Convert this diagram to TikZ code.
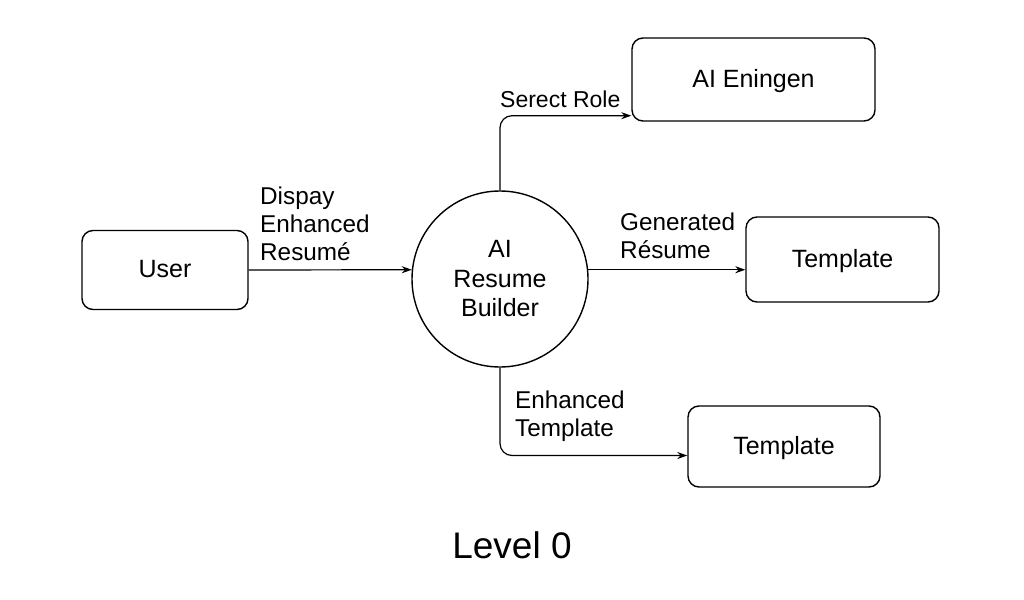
\documentclass[tikz,border=0pt]{standalone}
\usepackage{fontspec}
\setmainfont{Liberation Sans}
\usetikzlibrary{arrows.meta}

\begin{document}
\begin{tikzpicture}[x=1pt,y=-1pt]
		\tikzstyle{every node}+=[inner sep=0pt]
		\tikzstyle{box}=[draw, rounded corners=11pt, line width=1.4pt, font=\fontsize{25}{30}\selectfont, text depth=2pt]
		\tikzstyle{proc}=[draw, circle, line width=1.4pt, minimum size=176pt, align=center, font=\fontsize{25}{29.5}\selectfont]
		\tikzstyle{flow}=[-{Stealth[length=10pt,width=7pt]}, line width=1.2pt, rounded corners=12pt]
		\tikzstyle{lbl}=[align=left, font=\fontsize{24.3}{28}\selectfont]
		\useasboundingbox (0,0) rectangle (1024,599);
		% nodes
		\node [box, minimum width=166pt, minimum height=79pt] (user) at (165,270) {User};
		\node [proc] (arb) at (500,279) {AI\\Resume\\Builder};
		\node [box, minimum width=243pt, minimum height=83pt] (engine) at (753.5,79.5) {AI Eningen};
		\node [box, minimum width=193pt, minimum height=85pt] (tplA) at (842.5,259.5) {Template};
		\node [box, minimum width=192pt, minimum height=81pt] (tplB) at (784,446.5) {Template};
		\node [font=\fontsize{37}{44}\selectfont] (level) at (512,545) {Level 0};
		% flows
		\draw [flow] (user.east) -- (arb.174);
		\node [lbl, anchor=south west] (lblshow) at (260,261) {Dispay\\Enhanced\\Resumé};
		\draw [flow] (arb.north) |- ([yshift=6pt]engine.south west);
		\node [lbl, anchor=base west, font=\fontsize{23}{28}\selectfont] (lblrole) at (500,107) {Serect Role};
		\draw [flow] (arb.6) -- (arb.6 -| tplA.west);
		\node [lbl, anchor=south west] (lblgen) at (620,259) {Generated\\Résume};
		\draw [flow] (arb.south) |- ([yshift=-9pt]tplB.west);
		\node [lbl, anchor=south west] (lblenh) at (515,442) {Enhanced\\Template};
	\end{tikzpicture}
\end{document}
